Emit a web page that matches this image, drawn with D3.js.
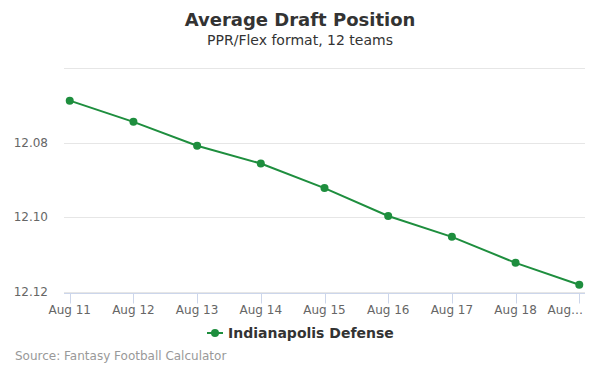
<!DOCTYPE html>
<html>
<head>
<meta charset="utf-8">
<script src="https://cdn.jsdelivr.net/npm/d3@7"></script>
<style>
  body { margin: 0; background: #fff; }
  svg { font-family: "DejaVu Sans", sans-serif; }
</style>
</head>
<body>
<div id="chart"></div>
<script>
// data
var categories = ["Aug 11", "Aug 12", "Aug 13", "Aug 14", "Aug 15", "Aug 16", "Aug 17", "Aug 18", "Aug 19"];
var tickLabels = ["Aug 11", "Aug 12", "Aug 13", "Aug 14", "Aug 15", "Aug 16", "Aug 17", "Aug 18", "Aug\u2026"];
var adp = [12.0687, 12.0744, 12.0808, 12.0856, 12.0922, 12.0997, 12.1053, 12.1123, 12.1182];
var yTicks = [12.06, 12.08, 12.10, 12.12];
var seriesName = "Indianapolis Defense";

var width = 600, height = 375;
var plot = {left: 64, right: 585, top: 68.3, bottom: 291.5};
var green = "#1e8e3e";

var svg = d3.select("#chart").append("svg")
  .attr("width", width)
  .attr("height", height);

var x = d3.scalePoint()
  .domain(categories)
  .range([plot.left, plot.right])
  .padding(0.09);

var y = d3.scaleLinear()
  .domain([12.06, 12.12])
  .range([plot.top, plot.bottom]);

// title
svg.append("text")
  .attr("x", width / 2).attr("y", 26)
  .attr("text-anchor", "middle")
  .attr("font-size", "18px").attr("font-weight", "bold")
  .attr("fill", "#333")
  .text("Average Draft Position");

svg.append("text")
  .attr("x", width / 2).attr("y", 45)
  .attr("text-anchor", "middle")
  .attr("font-size", "14px")
  .attr("fill", "#333")
  .text("PPR/Flex format, 12 teams");

// gridlines
svg.selectAll(".grid").data(yTicks).enter()
  .append("line")
  .attr("class", "grid")
  .attr("x1", plot.left).attr("x2", plot.right)
  .attr("y1", function(d) { return Math.round(y(d)) + 0.5; })
  .attr("y2", function(d) { return Math.round(y(d)) + 0.5; })
  .attr("stroke", "#e6e6e6");

// y labels (top one is not shown)
svg.selectAll(".ylabel").data(yTicks.slice(1)).enter()
  .append("text")
  .attr("class", "ylabel")
  .attr("x", 48)
  .attr("y", function(d) { return y(d) + 4; })
  .attr("text-anchor", "end")
  .attr("font-size", "12px")
  .attr("fill", "#666")
  .text(function(d) { return d3.format(".2f")(d); });

// x axis
var axisY = 293.5;
svg.append("line")
  .attr("x1", plot.left).attr("x2", plot.right)
  .attr("y1", axisY).attr("y2", axisY)
  .attr("stroke", "#ccd6eb");

svg.selectAll(".xtick").data(categories).enter()
  .append("line")
  .attr("class", "xtick")
  .attr("x1", function(d) { return Math.round(x(d)) + 0.5; })
  .attr("x2", function(d) { return Math.round(x(d)) + 0.5; })
  .attr("y1", axisY).attr("y2", axisY + 10)
  .attr("stroke", "#ccd6eb");

svg.selectAll(".xlabel").data(categories).enter()
  .append("text")
  .attr("class", "xlabel")
  .attr("x", function(d, i) { return i === categories.length - 1 ? 583 : x(d); })
  .attr("y", 314)
  .attr("text-anchor", function(d, i) { return i === categories.length - 1 ? "end" : "middle"; })
  .attr("font-size", "12px")
  .attr("fill", "#666")
  .text(function(d, i) { return tickLabels[i]; });

// series
var line = d3.line()
  .x(function(d, i) { return x(categories[i]); })
  .y(function(d) { return y(d); });

svg.append("path")
  .datum(adp)
  .attr("d", line)
  .attr("fill", "none")
  .attr("stroke", green)
  .attr("stroke-width", 2);

svg.selectAll(".dot").data(adp).enter()
  .append("circle")
  .attr("class", "dot")
  .attr("cx", function(d, i) { return x(categories[i]); })
  .attr("cy", function(d) { return y(d); })
  .attr("r", 4)
  .attr("fill", green);

// legend
var legend = svg.append("g").attr("transform", "translate(207,333)");
legend.append("line")
  .attr("x1", 0).attr("x2", 16)
  .attr("stroke", green).attr("stroke-width", 2);
legend.append("circle")
  .attr("cx", 8).attr("r", 4)
  .attr("fill", green);
legend.append("text")
  .attr("x", 21).attr("y", 5)
  .attr("font-size", "14px").attr("font-weight", "bold")
  .attr("fill", "#333")
  .text(seriesName);

// credits
svg.append("text")
  .attr("x", 15).attr("y", 360)
  .attr("font-size", "12px")
  .attr("fill", "#999")
  .text("Source: Fantasy Football Calculator");
</script>
</body>
</html>
